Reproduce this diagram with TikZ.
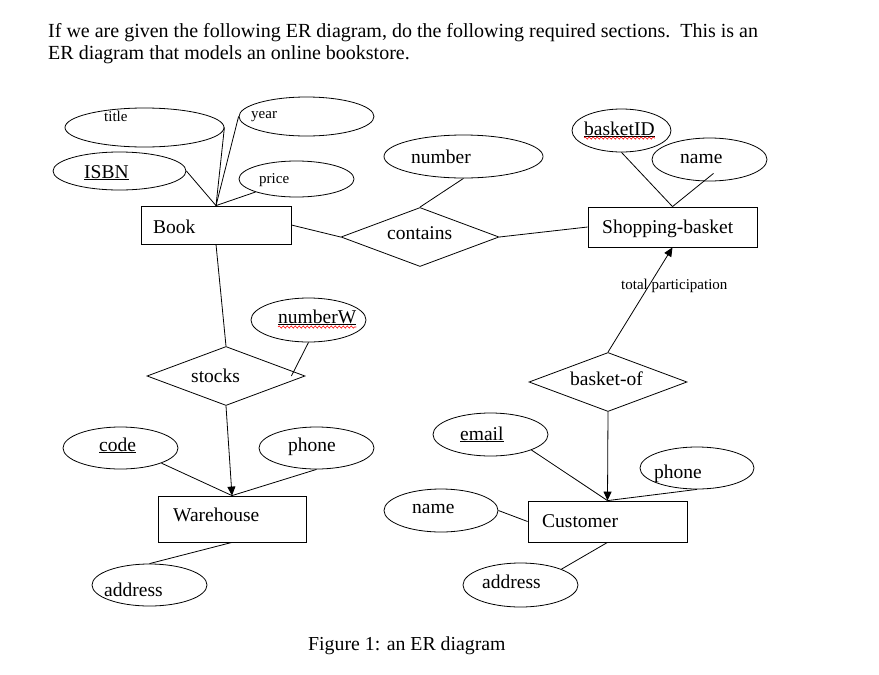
\documentclass[tikz,border=0pt]{standalone}
\usepackage{fontspec}
\setmainfont{Liberation Serif}
\usetikzlibrary{shapes.geometric,arrows.meta,decorations.pathmorphing}
\begin{document}
\begin{tikzpicture}[x=1pt, y=-1pt,
    attr/.style={draw, ellipse, inner sep=0pt, line width=0.8pt},
    ent/.style={draw, rectangle, inner sep=0pt, line width=0.8pt},
    rel/.style={draw, diamond, inner sep=0pt, line width=0.8pt, minimum width=158pt, minimum height=59pt},
    lbl/.style={inner sep=0pt, anchor=base west, font=\fontsize{19.5}{22}\selectfont},
    small/.style={lbl, font=\fontsize{15}{18}\selectfont},
    link/.style={line width=0.8pt},
    arr/.style={link, -{Triangle[length=9pt,width=8pt]}},
    spell/.style={red, line width=0.6pt, decorate, decoration={snake, amplitude=1.1pt, segment length=4pt}}]
  \useasboundingbox (0,0) rectangle (879,675);
  % heading and caption
  \node[lbl, font=\fontsize{20}{22}\selectfont] (head1) at (48,37) {If we are given the following ER diagram, do the following required sections.\ \ This is an};
  \node[lbl, font=\fontsize{20}{22}\selectfont] (head2) at (48,59) {ER diagram that models an online bookstore.};
  \node[lbl, font=\fontsize{19.8}{22}\selectfont] (caption) at (308,650) {Figure 1: an ER diagram};

  % entities
  \node[ent, minimum width=150pt, minimum height=38pt] (book) at (216,225) {};
  \node[ent, minimum width=169pt, minimum height=40pt] (basket) at (672.5,227) {};
  \node[ent, minimum width=148pt, minimum height=46pt] (warehouse) at (232,519) {};
  \node[ent, minimum width=159pt, minimum height=41pt] (customer) at (607.5,521.5) {};
  \node[lbl] (bookT) at (153,233) {Book};
  \node[lbl] (basketT) at (602,233) {Shopping-basket};
  \node[lbl] (warehouseT) at (173,521) {Warehouse};
  \node[lbl] (customerT) at (542,527) {Customer};

  % relationships
  \node[rel] (contains) at (420,237) {};
  \node[rel] (stocks) at (226,376) {};
  \node[rel] (basketof) at (608,382) {};
  \node[lbl] (containsT) at (387,239) {contains};
  \node[lbl] (stocksT) at (191,382) {stocks};
  \node[lbl] (basketofT) at (570,385) {basket-of};

  % attributes
  \node[attr, minimum width=159pt, minimum height=39pt] (title) at (144.5,127.5) {};
  \node[attr, minimum width=135pt, minimum height=39pt] (year) at (306.5,116.5) {};
  \node[attr, minimum width=133pt, minimum height=38pt] (isbn) at (119.5,171) {};
  \node[attr, minimum width=115pt, minimum height=36pt] (price) at (296.5,179) {};
  \node[attr, minimum width=159pt, minimum height=43pt] (number) at (463.5,156.5) {};
  \node[attr, minimum width=99pt, minimum height=43pt] (basketid) at (621.5,130.5) {};
  \node[attr, minimum width=115pt, minimum height=43pt] (nameB) at (709.5,159.5) {};
  \node[attr, minimum width=115pt, minimum height=44pt] (numberw) at (308.5,320) {};
  \node[attr, minimum width=115pt, minimum height=42pt] (code) at (120.5,448) {};
  \node[attr, minimum width=115pt, minimum height=42pt] (phoneW) at (316.5,448) {};
  \node[attr, minimum width=115pt, minimum height=42pt] (addressW) at (149.5,585) {};
  \node[attr, minimum width=115pt, minimum height=43pt] (email) at (490.5,434.5) {};
  \node[attr, minimum width=114pt, minimum height=42pt] (phoneC) at (697,468) {};
  \node[attr, minimum width=114pt, minimum height=43pt] (nameC) at (441,510.5) {};
  \node[attr, minimum width=115pt, minimum height=44pt] (addressC) at (520.5,585) {};

  \node[small] (titleT) at (104,121) {title};
  \node[small] (yearT) at (251,118) {year};
  \node[lbl] (isbnT) at (84,178) {\underline{ISBN}};
  \node[small] (priceT) at (259,183) {price};
  \node[lbl] (numberT) at (411,163) {number};
  \node[lbl] (basketidT) at (584,135) {\underline{basketID}};
  \node[lbl] (nameBT) at (680,163) {name};
  \node[lbl] (numberwT) at (278,323) {\underline{numberW}};
  \node[lbl] (codeT) at (99,451) {\underline{code}};
  \node[lbl] (phoneWT) at (288,451) {phone};
  \node[lbl] (addressWT) at (104,596) {address};
  \node[lbl] (emailT) at (460,440) {\underline{email}};
  \node[lbl] (phoneCT) at (654,478) {phone};
  \node[lbl] (nameCT) at (412,513) {name};
  \node[lbl] (addressCT) at (482,588) {address};
  \node[small] (totalT) at (621,289) {total participation};

  % spell-check marks
  \draw[spell] ([shift={(0,3)}]basketidT.base west) -- ([shift={(0,3)}]basketidT.base east);
  \draw[spell] ([shift={(0,4)}]numberwT.base west) -- ([shift={(0,4)}]numberwT.base east);

  % connectors
  \draw[link] (book.north) -- (title.east);
  \draw[link] (book.north) -- (year.west);
  \draw[link] (book.north) -- (isbn.east);
  \draw[link] (book.north) -- (price.south west);
  \draw[link] (book.east) -- (contains.west);
  \draw[link] (contains.east) -- (basket.west);
  \draw[link] (number.south) -- (contains.north);
  \draw[link] (basketid.south) -- (basket.north);
  \draw[link] ([shift={(4,-8)}]nameB.south) -- (basket.north);
  \draw[arr] (basketof.north) -- (basket.south);
  \draw[arr] (basketof.south) -- (customer.north);
  \draw[link] (email.south east) -- (customer.north);
  \draw[link] (phoneC.south) -- (customer.north);
  \draw[link] (nameC.east) -- (customer.west);
  \draw[link] (customer.south) -- (addressC.north east);
  \draw[link] (book.south) -- (stocks.north);
  \draw[link] (numberw.south) -- ([shift={(-14,0)}]stocks.east);
  \draw[arr] (stocks.south) -- (warehouse.north);
  \draw[link] (code.south east) -- (warehouse.north);
  \draw[link] (phoneW.south) -- (warehouse.north);
  \draw[link] (warehouse.south) -- (addressW.north);
\end{tikzpicture}
\end{document}
